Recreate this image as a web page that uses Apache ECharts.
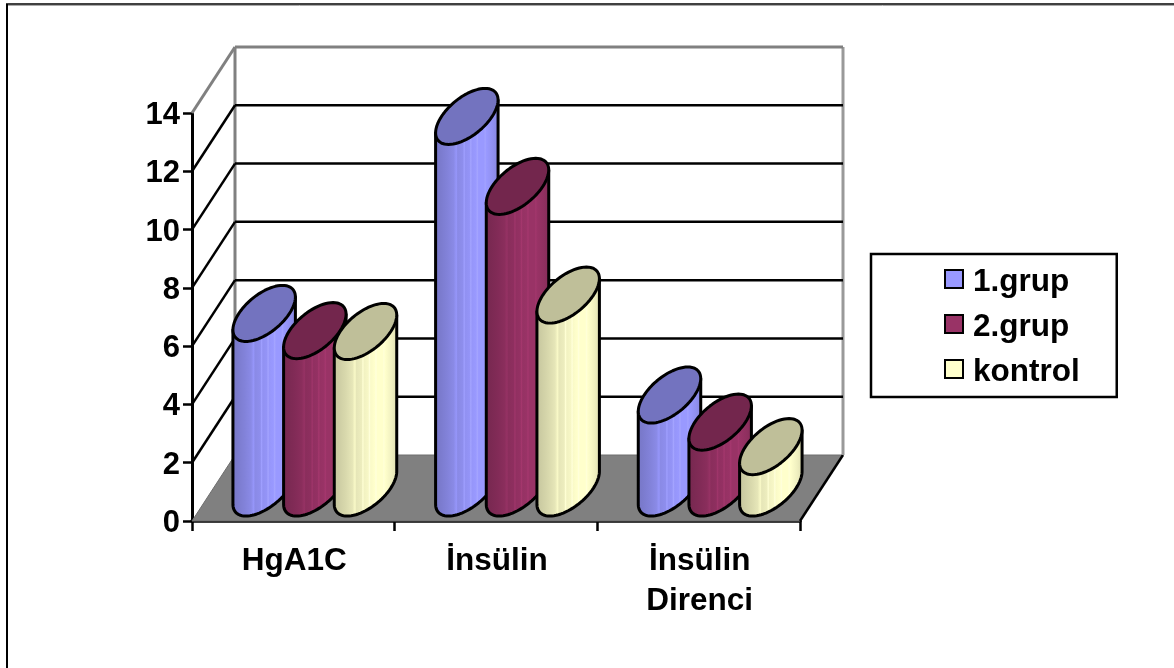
<!DOCTYPE html>
<html>
<head>
<meta charset="utf-8">
<title>Grup karşılaştırması</title>
<script src="https://cdn.jsdelivr.net/npm/echarts@6/dist/echarts.min.js"></script>
<style>
  html, body { margin: 0; padding: 0; background: #fff; }
  #main { width: 1174px; height: 668px; }
</style>
</head>
<body>
<div id="main"></div>
<script>
const categories = ["HgA1C", "İnsülin", "İnsülin\nDirenci"];
const yTicks = [0, 2, 4, 6, 8, 10, 12, 14];
const grup1 = [5.99, 12.75, 3.19];
const grup2 = [5.4, 10.35, 2.26];
const kontrol = [5.37, 6.62, 1.42];

const FONT = '"Liberation Sans", Arial, sans-serif';
const DEPTH_X = 43, DEPTH_Y = 66; // kaydirma: on duzlem -> arka duvar
const colors = ["#9999ff", "#993366", "#ffffcc"];
const topColors = ["#7373bf", "#73264d", "#bfbf99"];

// silindir govdesindeki soldan saga ton bantlari
const bands = [[0, .78], [.08, .8], [.2, .85], [.3, .9], [.34, .98], [.36, .9], [.44, .93], [.46, 1.04], [.48, .95],
  [.54, .97], [.56, 1.07], [.58, .98], [.64, 1], [.66, 1.08], [.68, 1], [.76, 1], [.78, 1.06], [.8, 1], [.9, .94], [1, .86]];

function shade(hex, k) {
  let out = "rgb(";
  for (let i = 1; i < 7; i += 2) {
    let c = Math.round(parseInt(hex.substr(i, 2), 16) * k);
    out += Math.min(c, 255) + (i < 5 ? "," : ")");
  }
  return out;
}

function bodyFill(hex) {
  return new echarts.graphic.LinearGradient(0, 0, 1, 0, bands.map(b => ({ offset: b[0], color: shade(hex, b[1]) })));
}

// egik elipsin noktasi (taban dairesinin izdusumu)
function ringPoint(cx, cy, w, sx, sy, t) {
  return [cx + Math.cos(t) * w / 2 + Math.sin(t) * sx / 2, cy - Math.sin(t) * sy / 2];
}

function renderCylinder(params, api) {
  let si = params.seriesIndex - 1;
  let catW = api.size([1, 0])[0];
  let w = catW / 4;
  let sx = DEPTH_X * 0.85, sy = DEPTH_Y * 0.85;
  let cx = api.coord([api.value(0), 0])[0] + (si - 1) * w + DEPTH_X / 2;
  let cyBase = api.coord([0, 0])[1] - DEPTH_Y / 2;
  let cyTop = api.coord([0, api.value(1)])[1] - DEPTH_Y / 2;
  let t0 = Math.atan2(sx, w);
  let body = [], ring = [];
  for (let i = 0; i <= 40; i++) {
    body.push(ringPoint(cx, cyBase, w, sx, sy, t0 + Math.PI + Math.PI * i / 40));
  }
  body.push(ringPoint(cx, cyTop, w, sx, sy, t0));
  body.push(ringPoint(cx, cyTop, w, sx, sy, t0 + Math.PI));
  for (let i = 0; i < 72; i++) {
    ring.push(ringPoint(cx, cyTop, w, sx, sy, Math.PI * 2 * i / 72));
  }
  let edge = { stroke: "#000", lineWidth: 3, lineJoin: "round" };
  return {
    type: "group",
    children: [
      { type: "polygon", shape: { points: body }, style: Object.assign({ fill: bodyFill(colors[si]) }, edge) },
      { type: "polygon", shape: { points: ring }, style: Object.assign({ fill: topColors[si] }, edge) }
    ]
  };
}

function renderWall(params, api) {
  let cs = params.coordSys;
  let v = api.value(0);
  let y = api.coord([0, v])[1];
  let left = cs.x, right = cs.x + cs.width;
  let top = v === yTicks[yTicks.length - 1];
  let color = top ? "#808080" : "#000";
  let width = top ? 3 : 2.5;
  let kids = [];
  if (v === 0) {
    // taban ve arka duvar kenarlari
    let yTop = api.coord([0, yTicks[yTicks.length - 1]])[1] - DEPTH_Y;
    kids.push({ type: "polygon", shape: { points: [[left, y], [right, y], [right + DEPTH_X, y - DEPTH_Y], [left + DEPTH_X, y - DEPTH_Y]] },
      style: { fill: "#808080", stroke: "#6e6e6e", lineWidth: 1 } });
    kids.push({ type: "line", shape: { x1: right, y1: y, x2: right + DEPTH_X, y2: y - DEPTH_Y }, style: { stroke: "#000", lineWidth: 2.5 } });
    kids.push({ type: "line", shape: { x1: left + DEPTH_X, y1: yTop, x2: left + DEPTH_X, y2: y - DEPTH_Y }, style: { stroke: "#808080", lineWidth: 3 } });
    kids.push({ type: "line", shape: { x1: right + DEPTH_X, y1: yTop, x2: right + DEPTH_X, y2: y - DEPTH_Y }, style: { stroke: "#999", lineWidth: 3 } });
  } else {
    kids.push({ type: "line", shape: { x1: left, y1: y, x2: left + DEPTH_X, y2: y - DEPTH_Y }, style: { stroke: color, lineWidth: width } });
    kids.push({ type: "line", shape: { x1: left + DEPTH_X, y1: y - DEPTH_Y, x2: right + DEPTH_X, y2: y - DEPTH_Y }, style: { stroke: color, lineWidth: width } });
  }
  return { type: "group", children: kids };
}

function cylinderSeries(name, values, i) {
  return {
    name: name,
    type: "custom",
    coordinateSystem: "cartesian2d",
    renderItem: renderCylinder,
    encode: { x: 0, y: 1 },
    clip: false,
    z: 3,
    itemStyle: { color: colors[i], borderColor: "#000", borderWidth: 2 },
    data: values.map((v, k) => [k, v])
  };
}

var myChart = echarts.init(document.getElementById("main"));
myChart.setOption({
  animation: false,
  backgroundColor: "#fff",
  textStyle: { fontFamily: FONT },
  graphic: [
    { type: "line", shape: { x1: 7, y1: 4, x2: 7, y2: 668 }, style: { stroke: "#000", lineWidth: 2 } },
    { type: "line", shape: { x1: 6, y1: 4, x2: 1174, y2: 4 }, style: { stroke: "#000", lineWidth: 1.5 } },
    { type: "line", shape: { x1: 8, y1: 5.5, x2: 1174, y2: 5.5 }, style: { stroke: "#aaa", lineWidth: 1 } }
  ],
  grid: { left: 192, top: 113, width: 608, height: 408 },
  legend: {
    data: ["1.grup", "2.grup", "kontrol"],
    orient: "vertical",
    left: 871,
    top: 254,
    padding: [12, 37, 9, 73],
    itemGap: 13,
    itemWidth: 18,
    itemHeight: 18,
    icon: "rect",
    selectedMode: false,
    backgroundColor: "#fff",
    borderColor: "#000",
    borderWidth: 2.5,
    formatter: "{t|{name}}",
    textStyle: {
      rich: { t: { fontFamily: FONT, fontWeight: "bold", fontSize: 31.5, color: "#000", padding: [6, 0, 0, 5] } }
    },
    itemStyle: { borderColor: "#000", borderWidth: 2 }
  },
  xAxis: {
    type: "category",
    data: categories,
    axisLine: { lineStyle: { color: "#000", width: 3.5 } },
    axisTick: { show: true, length: 10, lineStyle: { color: "#000", width: 2.5 } },
    axisLabel: { color: "#000", fontFamily: FONT, fontWeight: "bold", fontSize: 31.5, lineHeight: 40, margin: 20, padding: [0, 0, 0, 2] },
    splitLine: { show: false }
  },
  yAxis: {
    type: "value",
    min: 0,
    max: 14,
    interval: 2,
    axisLine: { show: true, lineStyle: { color: "#000", width: 3 } },
    axisTick: { show: true, length: 9, lineStyle: { color: "#000", width: 2.5 } },
    axisLabel: {
      margin: 12,
      formatter: "{t|{value}}",
      rich: { t: { color: "#000", fontFamily: FONT, fontWeight: "bold", fontSize: 31, padding: [5, 0, 0, 0] } }
    },
    splitLine: { show: false }
  },
  series: [
    {
      name: "duvar",
      type: "custom",
      coordinateSystem: "cartesian2d",
      renderItem: renderWall,
      encode: { y: 0 },
      clip: false,
      z: 1,
      silent: true,
      data: yTicks.map(v => [v])
    },
    cylinderSeries("1.grup", grup1, 0),
    cylinderSeries("2.grup", grup2, 1),
    cylinderSeries("kontrol", kontrol, 2)
  ]
});
</script>
</body>
</html>
